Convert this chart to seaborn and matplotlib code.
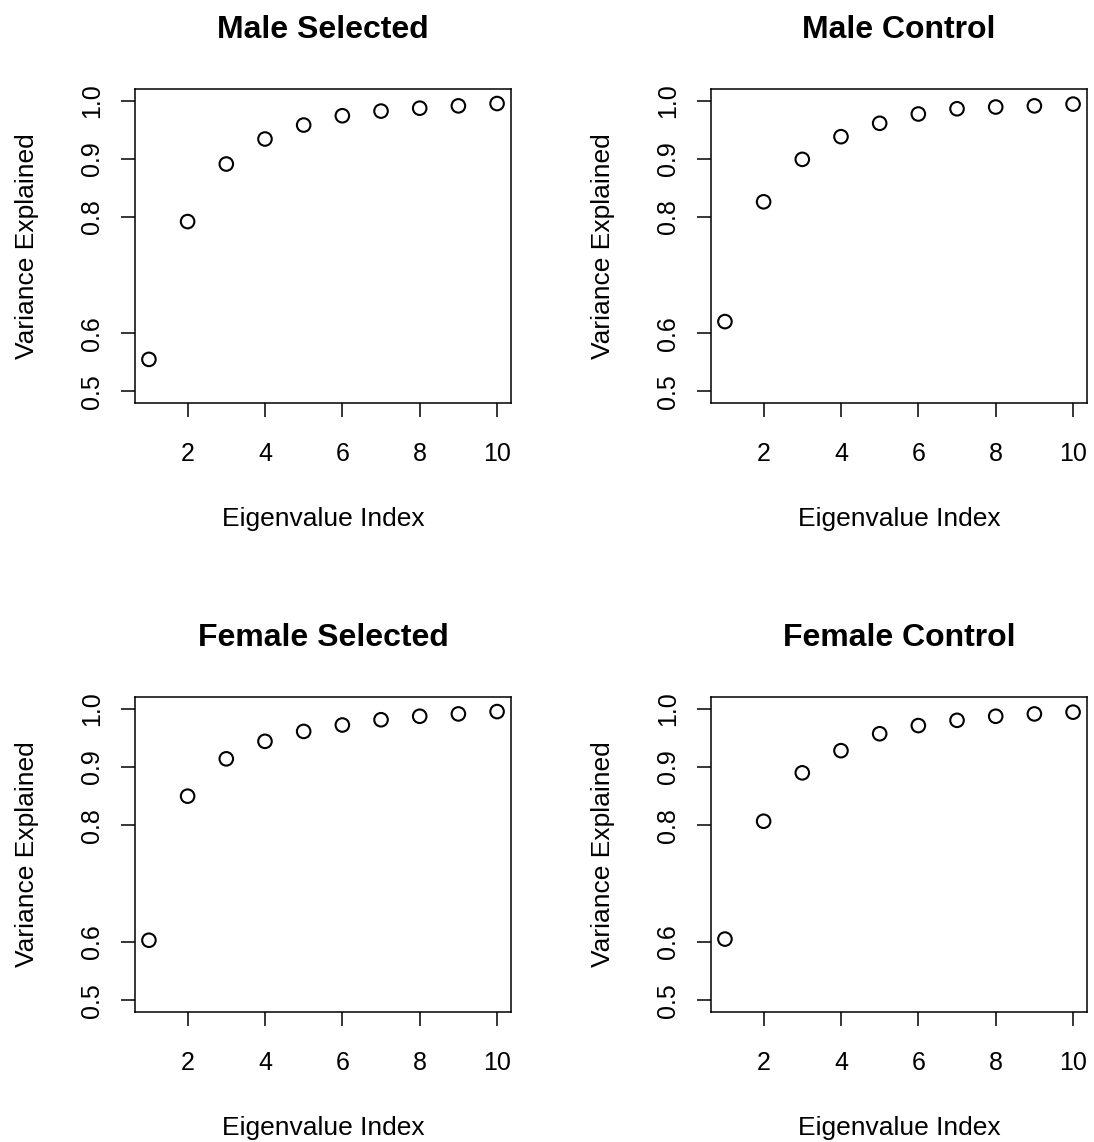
import numpy as np
import pandas as pd
import matplotlib
matplotlib.use("Agg")
import matplotlib.pyplot as plt
import seaborn as sns

eigen_index = [1, 2, 3, 4, 5, 6, 7, 8, 9, 10]
male_selected = [0.555, 0.792, 0.891, 0.934, 0.958, 0.974, 0.982, 0.987, 0.991, 0.995]
male_control = [0.620, 0.826, 0.899, 0.938, 0.961, 0.977, 0.986, 0.989, 0.991, 0.994]
female_selected = [0.603, 0.850, 0.914, 0.944, 0.961, 0.972, 0.981, 0.987, 0.991, 0.995]
female_control = [0.605, 0.807, 0.890, 0.928, 0.957, 0.971, 0.980, 0.987, 0.991, 0.994]
titles = ["Male Selected", "Male Control", "Female Selected", "Female Control"]
y_ticks = [0.5, 0.6, 0.8, 0.9, 1.0]
y_ticklabels = ["0.5", "0.6", "0.8", "0.9", "1.0"]
x_ticks = [2, 4, 6, 8, 10]

sns.set_theme(style="white")
plt.rcParams['font.family'] = ['Liberation Sans', 'DejaVu Sans']

W, H = 1094, 1142
fig = plt.figure(figsize=(W / 100, H / 100), dpi=100)

# pixel boxes: left, right, top, bottom
boxes = [(135, 511, 89, 403), (711, 1087, 89, 403),
         (135, 511, 697, 1012), (711, 1087, 697, 1012)]
series = [male_selected, male_control, female_selected, female_control]

for (l, r, t, b), vals, title in zip(boxes, series, titles):
    ax = fig.add_axes([l / W, 1 - b / H, (r - l) / W, (b - t) / H])
    df = pd.DataFrame({"idx": eigen_index, "var": vals})
    sns.scatterplot(data=df, x="idx", y="var", ax=ax, marker="o", s=95,
                    facecolors="none", edgecolor="black", linewidth=1.5)
    ax.set_xlim(0.64, 10.36)
    ax.set_ylim(0.48, 1.02)
    ax.set_xticks(x_ticks)
    ax.set_xticklabels([str(v) for v in x_ticks])
    ax.set_yticks(y_ticks)
    ax.set_yticklabels(y_ticklabels, rotation=90, va="center")
    ax.tick_params(axis="both", which="both", direction="out", length=10,
                   width=1.1, color="black", labelsize=18, labelcolor="black",
                   bottom=True, left=True)
    ax.tick_params(axis="x", pad=18)
    ax.tick_params(axis="y", pad=12)
    for sp in ax.spines.values():
        sp.set_visible(True)
        sp.set_color("black")
        sp.set_linewidth(1.1)
    ax.set_xlabel("Eigenvalue Index", fontsize=19, color="black")
    ax.set_ylabel("Variance Explained", fontsize=19, color="black")
    ax.xaxis.set_label_coords(0.5, -0.33)
    ax.yaxis.set_label_coords(-0.255, 0.5)
    ax.set_title(title, fontsize=23, fontweight="bold", pad=37, color="black")

fig.savefig("out.png", dpi=100, facecolor="white")
